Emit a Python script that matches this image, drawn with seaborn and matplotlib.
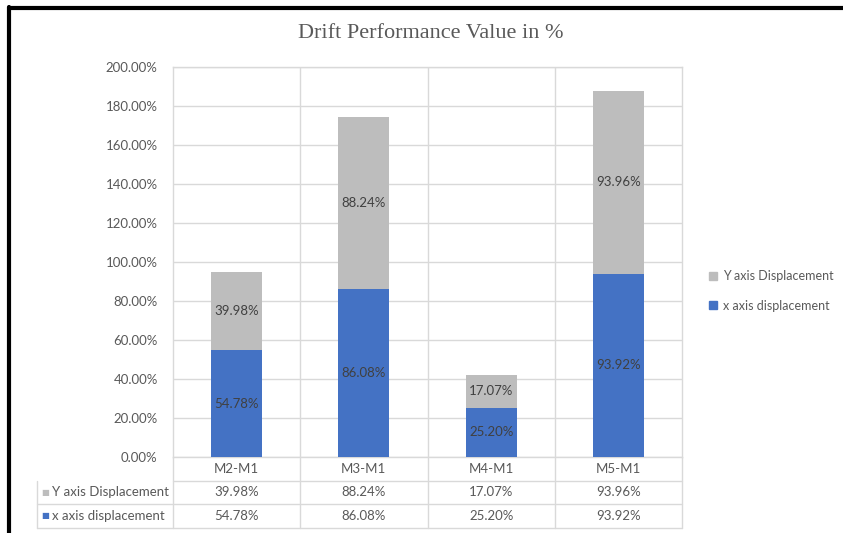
import matplotlib
matplotlib.use("Agg")
import matplotlib.pyplot as plt
import matplotlib.patches as mpatches
import matplotlib.lines as mlines
import pandas as pd
import seaborn as sns

# Chart data.
categories = ["M2-M1", "M3-M1", "M4-M1", "M5-M1"]
x_displacement = [54.78, 86.08, 25.20, 93.92]
y_displacement = [39.98, 88.24, 17.07, 93.96]
y_ticks = [0, 20, 40, 60, 80, 100, 120, 140, 160, 180, 200]
series_names = ["Y axis Displacement", "x axis displacement"]

BLUE = "#4472C4"
GRAY = "#BDBDBD"
GRID = "#D9D9D9"
TEXT = "#595959"

df = pd.DataFrame(
    {"category": categories, "x": x_displacement, "y": y_displacement}
)
df["total"] = df["x"] + df["y"]

sns.set_style("white")
plt.rcParams["font.family"] = ["Lato", "DejaVu Sans"]

W, H = 843, 533
fig = plt.figure(figsize=(W / 100, H / 100), dpi=100)
ax = fig.add_axes([173 / W, 1 - 457 / H, (682 - 173) / W, (457 - 67) / H])

# Stacked bars: grey total first, blue x-part on top of it.
sns.barplot(data=df, x="category", y="total", color=GRAY, width=0.4,
            saturation=1, linewidth=0, ax=ax, zorder=3)
sns.barplot(data=df, x="category", y="x", color=BLUE, width=0.4,
            saturation=1, linewidth=0, ax=ax, zorder=3)

# Value labels centred in each segment.
for i, row in df.iterrows():
    ax.text(i, row["x"] / 2, f"{row['x']:.2f}%", ha="center", va="center",
            fontsize=9.5, color="#404040", zorder=4)
    ax.text(i, row["x"] + row["y"] / 2, f"{row['y']:.2f}%", ha="center",
            va="center", fontsize=9.5, color="#404040", zorder=4)

ax.set_xlim(-0.5, len(categories) - 0.5)
ax.set_ylim(0, 200)
ax.set_yticks(y_ticks)
ax.set_yticklabels([f"{v:.2f}%" for v in y_ticks], color=TEXT, fontsize=9.5)
ax.set_xticks([])
ax.set_xlabel("")
ax.set_ylabel("")
ax.tick_params(axis="y", length=0, pad=11)
ax.grid(axis="y", color=GRID, linewidth=1, zorder=0)
for b in range(1, len(categories)):
    ax.axvline(b - 0.5, color=GRID, linewidth=1, zorder=0)
for s in ax.spines.values():
    s.set_color(GRID)
    s.set_linewidth(1)

# Data table under the plot.
trans = ax.get_xaxis_transform()
row_h = 23.5 / (457 - 67)
left_x = -0.5 - (173 - 37) / 127.25
line_kw = dict(color=GRID, linewidth=1, transform=trans, clip_on=False)
# horizontal lines
ax.add_line(mlines.Line2D([-0.5, 3.5], [-row_h, -row_h], **line_kw))
for k in (2, 3):
    ax.add_line(mlines.Line2D([left_x, 3.5], [-k * row_h, -k * row_h],
                              **line_kw))
# vertical lines
ax.add_line(mlines.Line2D([left_x, left_x], [-row_h, -3 * row_h], **line_kw))
for b in range(len(categories) + 1):
    ax.add_line(mlines.Line2D([b - 0.5, b - 0.5], [0, -3 * row_h], **line_kw))

for i, cat in enumerate(categories):
    ax.text(i, -0.5 * row_h, cat, transform=trans, ha="center", va="center",
            fontsize=9.5, color=TEXT)
    ax.text(i, -1.5 * row_h, f"{y_displacement[i]:.2f}%", transform=trans,
            ha="center", va="center", fontsize=9.5, color=TEXT)
    ax.text(i, -2.5 * row_h, f"{x_displacement[i]:.2f}%", transform=trans,
            ha="center", va="center", fontsize=9.5, color=TEXT)

for k, (name, col) in enumerate(zip(series_names, [GRAY, BLUE])):
    yk = -(1.5 + k) * row_h
    ax.text(left_x + 0.03, yk, "■", transform=trans, ha="left", va="center",
            fontsize=6, color=col, family=["DejaVu Sans"])
    ax.text(left_x + 0.115, yk, name, transform=trans, ha="left",
            va="center", fontsize=9.5, color=TEXT)

# Legend on the right.
handles = [mpatches.Patch(color=GRAY, label=series_names[0]),
           mpatches.Patch(color=BLUE, label=series_names[1])]
fig.legend(handles=handles, loc="center left",
           bbox_to_anchor=(698 / W, 1 - 291 / H), frameon=False,
           fontsize=9, labelcolor=TEXT, handlelength=0.6, handleheight=0.6,
           handletextpad=0.5, labelspacing=1.4)

# Title.
fig.text(431 / W, 1 - 33 / H, "Drift Performance Value in %",
         ha="center", va="center", fontsize=16, color=TEXT,
         family=["Liberation Serif"])

# Dark frame at top and left edges.
fig.add_artist(mlines.Line2D([9 / W, 9 / W], [0, 1 - 7 / H], color="black",
                             linewidth=3, transform=fig.transFigure))
fig.add_artist(mlines.Line2D([9 / W, 1], [1 - 7.5 / H, 1 - 7.5 / H],
                             color="black", linewidth=3,
                             transform=fig.transFigure))

fig.savefig("out.png", dpi=100)
